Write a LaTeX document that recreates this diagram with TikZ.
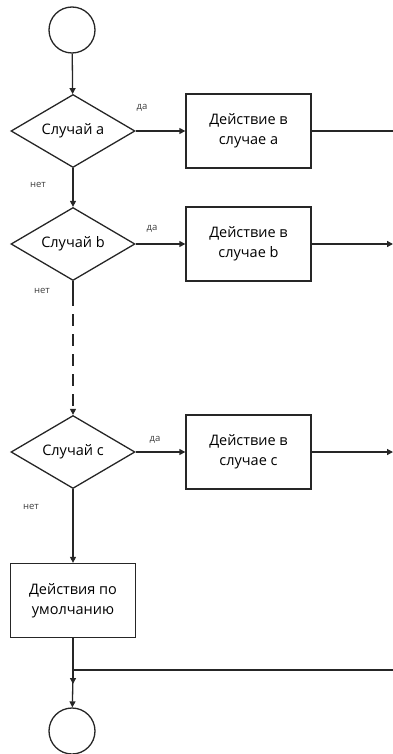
\documentclass[tikz,border=0pt]{standalone}
\usepackage{fontspec}
\setmainfont{Open Sans}
\usetikzlibrary{shapes.geometric,arrows.meta}

\tikzset{
  flow/.style={line width=1.3pt, draw=black!85},
  arr/.style={flow, -{Triangle[length=6pt,width=6pt]}},
  decision/.style={flow, diamond, aspect=1.7, inner sep=0pt,
    minimum width=124pt, minimum height=73pt, font=\fontsize{14.5}{16}\selectfont},
  action/.style={flow, rectangle, inner sep=0pt, minimum width=125pt,
    minimum height=74pt, align=center, font=\fontsize{14.5}{20}\selectfont},
  terminal/.style={flow, circle, inner sep=0pt, minimum size=46pt},
  tag/.style={font=\fontsize{9.5}{10}\selectfont, text=black!75, inner sep=0pt}
}

\begin{document}
\begin{tikzpicture}[x=1pt,y=-1pt]
\useasboundingbox (0,0) rectangle (393,754);

% start and end
\node[terminal] (start) at (72,30) {};
\node[terminal] (finish) at (72,731) {};

% decisions
\node[decision] (da) at (73,131) {Случай а};
\node[decision] (db) at (73,244) {Случай b};
\node[decision] (dc) at (73,452) {Случай с};

% actions
\node[action] (aa) at (248.5,131) {Действие в\\случае а};
\node[action] (ab) at (248.5,244) {Действие в\\случае b};
\node[action] (ac) at (248.5,452) {Действие в\\случае с};
\node[action] (def) at (73,600.5) {Действия по\\умолчанию};

% free ends on the right and the merge point
\coordinate (ra) at (393,131);
\coordinate (rb) at (393,244);
\coordinate (rc) at (393,452);
\coordinate (rm) at (393,670);
\coordinate (merge) at (73,670);
\coordinate (mtip) at (73,684);

% main vertical flow
\draw[arr] (start) -- (da);
\draw[arr] (da) -- (db);
\draw[flow] (db.south) -- ++(0,13) coordinate (dashtop);
\draw[arr, dash pattern=on 12pt off 8pt] (dashtop) -- (dc);
\draw[arr] (dc) -- (def);
\draw[arr] (def) -- (mtip);
\draw[arr] (merge) -- (finish);
\draw[flow] (rm) -- (merge);

% yes branches
\draw[arr] (da) -- (aa);
\draw[arr] (db) -- (ab);
\draw[arr] (dc) -- (ac);
\draw[flow] (aa.east) -- (ra);
\draw[arr] (ab.east) -- (rb);
\draw[arr] (ac.east) -- (rc);

% branch labels
\node[tag] (ya) at (142,108) {да};
\node[tag] (yb) at (152,229) {да};
\node[tag] (yc) at (155,440) {да};
\node[tag] (na) at (38,185) {нет};
\node[tag] (nb) at (42,291) {нет};
\node[tag] (nc) at (31,507) {нет};
\end{tikzpicture}
\end{document}
